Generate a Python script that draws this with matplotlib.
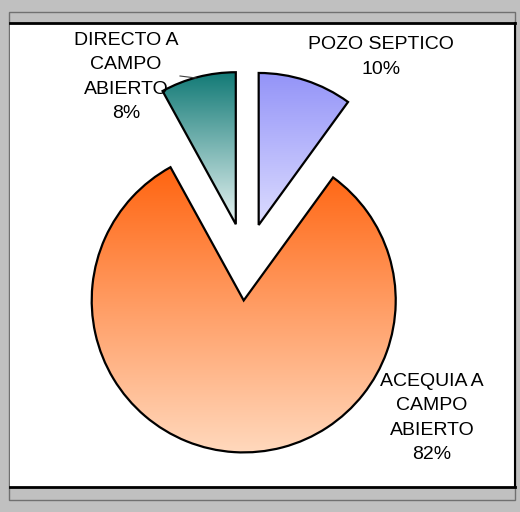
import numpy as np
import matplotlib
matplotlib.use("Agg")
import matplotlib.pyplot as plt
from matplotlib.patches import Rectangle
from matplotlib.colors import LinearSegmentedColormap

plt.rcParams['font.family'] = ['Liberation Sans', 'DejaVu Sans']

# data (clockwise from 12 o'clock)
categories = ["POZO SEPTICO", "ACEQUIA A CAMPO ABIERTO", "DIRECTO A CAMPO ABIERTO"]
label_lines = [["POZO SEPTICO"], ["ACEQUIA A", "CAMPO", "ABIERTO"], ["DIRECTO A", "CAMPO", "ABIERTO"]]
shares = [10, 82, 8]

# style
explode = [0.27, 0.24, 0.27]   # fraction of radius
grad_top = ["#9494f8", "#ff6410", "#127a76"]
grad_bottom = ["#dcdcff", "#ffd8bc", "#e8f4f3"]
label_pos = [(381, 57), (432, 418), (126, 77)]  # pixel centres, y measured from top

W, H = 520, 512
R = 152
fig = plt.figure(figsize=(W / 100, H / 100), dpi=100)
fig.patch.set_facecolor('#c0c0c0')
ax = fig.add_axes([0, 0, 1, 1])
ax.axis('off')


def py(y):
    return H - y


# chart frame and white plot area
ax.add_patch(Rectangle((9, py(500)), 506, 488, facecolor='#c0c0c0', edgecolor='#707070', lw=1, zorder=0))
ax.add_patch(Rectangle((10, py(487)), 504, 464, facecolor='white', edgecolor='none', zorder=0.1))
ax.plot([10, 515], [py(23), py(23)], color='black', lw=2, zorder=0.2)
ax.plot([10, 515], [py(487), py(487)], color='black', lw=2, zorder=0.2)
ax.plot([514.5, 514.5], [py(23), py(487)], color='black', lw=1.5, zorder=0.2)

# pie explode is in data units, so scale by the radius
wedges, _ = ax.pie(shares, explode=[e * R for e in explode], startangle=90, counterclock=False,
                   center=(246, py(264)), radius=R,
                   wedgeprops=dict(facecolor='none', edgecolor='black', linewidth=1.6, zorder=2))

# vertical gradient fill clipped to each wedge
grad = np.linspace(0, 1, 256).reshape(-1, 1)
for w, c0, c1 in zip(wedges, grad_top, grad_bottom):
    bb = w.get_path().get_extents(w.get_patch_transform())
    cmap = LinearSegmentedColormap.from_list('g', [c1, c0])
    im = ax.imshow(grad, cmap=cmap, extent=[bb.x0, bb.x1, bb.y0, bb.y1],
                   origin='lower', aspect='auto', zorder=1.5)
    im.set_clip_path(w)

for lines, pct, (x, y) in zip(label_lines, shares, label_pos):
    ax.text(x, py(y), "\n".join(lines + [f"{pct}%"]), ha='center', va='center',
            fontsize=14, linespacing=1.55, color='black', zorder=3)

# leader line for the small slice
ax.plot([180, 196], [py(76), py(78)], color='#404040', lw=0.8, zorder=3)

ax.set_xlim(0, W)
ax.set_ylim(0, H)
ax.set_aspect('auto')
fig.savefig('out.png', dpi=100, facecolor=fig.get_facecolor())
